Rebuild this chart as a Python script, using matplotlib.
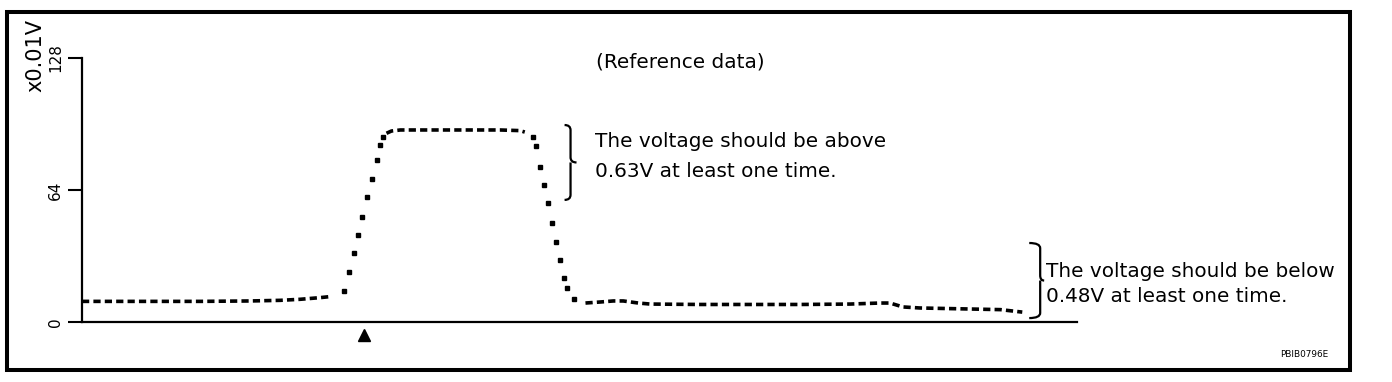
import numpy as np
import matplotlib
matplotlib.use("Agg")
import matplotlib.pyplot as plt
from matplotlib.path import Path
from matplotlib.patches import PathPatch, Rectangle

plt.rcParams['font.family'] = ['DejaVu Sans']
plt.rcParams['lines.scale_dashes'] = False

# ---- data (time in arbitrary units, voltage in x0.01V) ----
time = [0.0, 6.8, 11.9, 16.9, 19.9, 21.9, 23.9, 24.9,
        26.3, 26.8, 27.3, 27.7, 28.1, 28.6, 29.1, 29.6, 29.9, 30.3,
        30.6, 31.1, 32.0, 37.0, 42.0, 44.0, 44.5,
        45.3, 45.6, 46.0, 46.4, 46.8, 47.2, 47.6, 48.0, 48.4, 48.7,
        49.4, 50.6, 52.1, 53.4, 54.4, 55.9, 57.1, 62.1, 67.1, 72.2,
        77.2, 80.2, 81.2, 82.5, 84.2, 87.2, 92.3, 94.5]
voltage = [10.0, 10.0, 10.0, 10.2, 10.5, 11.0, 11.8, 12.3,
           15.0, 24.2, 33.5, 42.2, 50.9, 60.6, 69.3, 78.5, 85.8, 89.7,
           91.5, 92.6, 93.1, 93.1, 93.1, 92.8, 92.1,
           89.7, 85.3, 75.2, 66.4, 57.7, 48.0, 38.8, 30.1, 21.3, 16.5,
           11.2, 9.2, 9.7, 10.2, 10.2, 9.2, 8.7, 8.5, 8.5, 8.5,
           8.7, 9.2, 9.2, 7.3, 6.8, 6.5, 6.0, 4.8]
yticks = [0, 64, 128]
ytick_labels = ["0", "64", "128"]
trigger_time = 28.3
upper_range = (59.2, 95.5)   # bracket for "above 0.63V"
lower_range = (1.9, 38.3)    # bracket for "below 0.48V"

t = np.array(time)
v = np.array(voltage)
slope = np.abs(np.gradient(v, t))
steep = slope > 5
v_dash = np.where(steep, np.nan, v)

W, H = 1392, 382
fig = plt.figure(figsize=(W / 100, H / 100), dpi=100)
ax = fig.add_axes([82 / W, 60 / H, 995 / W, 264 / H])

ax.plot(t, v_dash, color='black', lw=2.6, linestyle=(0, (5.2, 3.0)),
        solid_capstyle='butt', dash_capstyle='butt')
ax.plot(t[steep], v[steep], linestyle='none', marker='s', ms=3.0,
        color='black', mec='black')

ax.set_xlim(0, 100)
ax.set_ylim(0, 128)
for s in ['top', 'right']:
    ax.spines[s].set_visible(False)
ax.spines['left'].set_linewidth(1.6)
ax.spines['bottom'].set_linewidth(1.6)
ax.set_xticks([])
ax.set_yticks(yticks)
ax.set_yticklabels(ytick_labels, rotation=90, va='center', fontsize=11)
ax.tick_params(axis='y', direction='out', length=10, width=1.5, pad=3.5)

# trigger marker below the axis
ax.plot([trigger_time], [-6.3], marker='^', ms=8, color='black',
        clip_on=False, linestyle='none')


def brace(ax, x_left, x_mid, x_tip, y0, y1, r):
    ym = (y0 + y1) / 2
    verts = [(x_left, y1), (x_mid, y1), (x_mid, y1 - r),
             (x_mid, ym + r),
             (x_mid, ym), (x_tip, ym),
             (x_mid, ym), (x_mid, ym - r),
             (x_mid, y0 + r),
             (x_mid, y0), (x_left, y0)]
    codes = [Path.MOVETO, Path.CURVE3, Path.CURVE3,
             Path.LINETO,
             Path.CURVE3, Path.CURVE3,
             Path.MOVETO, Path.CURVE3,
             Path.LINETO,
             Path.CURVE3, Path.CURVE3]
    ax.add_patch(PathPatch(Path(verts, codes), fill=False, lw=1.6,
                           color='black', clip_on=False))


brace(ax, 48.5, 49.1, 49.7, upper_range[0], upper_range[1], 2.5)
brace(ax, 95.2, 96.3, 96.7, lower_range[0], lower_range[1], 2.5)

fs = 14.4
ax.text(51.6, 85.0, "The voltage should be above", fontsize=fs,
        va='baseline', ha='left')
ax.text(51.6, 70.4, "0.63V at least one time.", fontsize=fs,
        va='baseline', ha='left')
ax.text(96.9, 22.0, "The voltage should be below", fontsize=fs,
        va='baseline', ha='left', clip_on=False)
ax.text(96.9, 9.8, "0.48V at least one time.", fontsize=fs,
        va='baseline', ha='left', clip_on=False)
ax.text(60.1, 126, "(Reference data)", fontsize=fs, ha='center',
        va='center', clip_on=False)

fig.text(35 / W, 1 - 55 / H, "x0.01V", rotation=90, fontsize=15,
         ha='center', va='center')
fig.text(1328 / W, 1 - 357 / H, "PBIB0796E", fontsize=6.4,
         ha='right', va='baseline')

fig.patches.append(Rectangle((6.5 / W, 12 / H), (1350 - 6.5) / W,
                             (370 - 11.5) / H, transform=fig.transFigure,
                             fill=False, lw=2.9, edgecolor='black'))

fig.savefig("out.png", dpi=100)
